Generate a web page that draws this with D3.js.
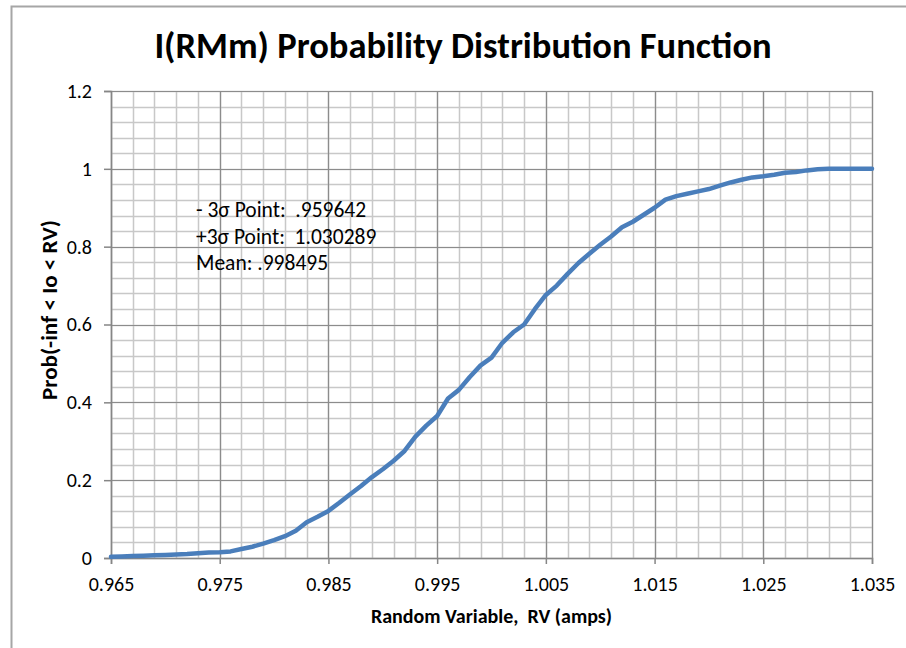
<!DOCTYPE html>
<html>
<head>
<meta charset="utf-8">
<script src="https://cdn.jsdelivr.net/npm/d3@7"></script>
<style>
  body { margin: 0; background: #fff; }
  svg { display: block; }
  text { font-family: Carlito, Calibri, "Liberation Sans Narrow", "Open Sans", sans-serif; }
</style>
</head>
<body>
<svg id="chart" width="906" height="648"></svg>
<script>
// random variable values (amps)
const rv = [
  0.965, 0.966, 0.967, 0.968, 0.969, 0.970, 0.971, 0.972, 0.973, 0.974,
  0.975, 0.976, 0.977, 0.978, 0.979, 0.980, 0.981, 0.982, 0.983, 0.984,
  0.985, 0.986, 0.987, 0.988, 0.989, 0.990, 0.991, 0.992, 0.993, 0.994,
  0.995, 0.996, 0.997, 0.998, 0.999, 1.000, 1.001, 1.002, 1.003, 1.004,
  1.005, 1.006, 1.007, 1.008, 1.009, 1.010, 1.011, 1.012, 1.013, 1.014,
  1.015, 1.016, 1.017, 1.018, 1.019, 1.020, 1.021, 1.022, 1.023, 1.024,
  1.025, 1.026, 1.027, 1.028, 1.029, 1.030, 1.031, 1.032, 1.035
]
// cumulative probability
const prob = [
  0.003, 0.004, 0.005, 0.006, 0.007, 0.008, 0.009, 0.010, 0.012, 0.014,
  0.015, 0.017, 0.023, 0.029, 0.037, 0.046, 0.056, 0.070, 0.092, 0.106,
  0.121, 0.142, 0.164, 0.185, 0.208, 0.228, 0.250, 0.275, 0.312, 0.340,
  0.365, 0.410, 0.432, 0.465, 0.495, 0.515, 0.553, 0.580, 0.600, 0.640,
  0.676, 0.700, 0.730, 0.758, 0.782, 0.805, 0.826, 0.850, 0.864, 0.882,
  0.900, 0.921, 0.930, 0.936, 0.942, 0.948, 0.957, 0.965, 0.972, 0.978,
  0.981, 0.985, 0.990, 0.992, 0.996, 0.999, 1.000, 1.000, 1.000
]
const xTicks = [0.965, 0.975, 0.985, 0.995, 1.005, 1.015, 1.025, 1.035]
const yTicks = [0, 0.2, 0.4, 0.6, 0.8, 1, 1.2]
const notes = ['- 3\u03c3 Point:  .959642', '+3\u03c3 Point:  1.030289', 'Mean: .998495']

const margin = { top: 91, right: 34, bottom: 90, left: 111 }
const width = 906 - (margin.left + margin.right)
const height = 648 - (margin.top + margin.bottom)

const svg = d3.select('#chart')

// outer chart border
svg.append('rect')
  .attr('x', 11.5).attr('y', 6.5)
  .attr('width', 920).attr('height', 700)
  .attr('fill', 'none')
  .attr('stroke', '#a6a6a6')
  .attr('stroke-width', 2)

const x = d3.scaleLinear().domain([0.965, 1.035]).range([0, width])
const y = d3.scaleLinear().domain([0, 1.2]).range([height, 0])

const g = svg.append('g').attr('transform', `translate(${margin.left}, ${margin.top})`)

// minor grid
const xMinor = d3.range(0, 36).map(i => 0.965 + i * 0.002)
const yMinor = d3.range(0, 31).map(i => i * 0.04)
g.append('g').selectAll('line').data(xMinor).enter().append('line')
  .attr('x1', d => Math.round(x(d)) + 0.5).attr('x2', d => Math.round(x(d)) + 0.5)
  .attr('y1', 0).attr('y2', height)
  .attr('stroke', '#c8c8c8').attr('stroke-width', 1.5)
g.append('g').selectAll('line').data(yMinor).enter().append('line')
  .attr('y1', d => Math.round(y(d)) + 0.5).attr('y2', d => Math.round(y(d)) + 0.5)
  .attr('x1', 0).attr('x2', width)
  .attr('stroke', '#c8c8c8').attr('stroke-width', 1.5)

// major grid
g.append('g').selectAll('line').data(xTicks).enter().append('line')
  .attr('x1', d => Math.round(x(d)) + 0.5).attr('x2', d => Math.round(x(d)) + 0.5)
  .attr('y1', 0).attr('y2', height)
  .attr('stroke', '#8c8c8c').attr('stroke-width', 1.2)
g.append('g').selectAll('line').data(yTicks).enter().append('line')
  .attr('y1', d => Math.round(y(d)) + 0.5).attr('y2', d => Math.round(y(d)) + 0.5)
  .attr('x1', 0).attr('x2', width)
  .attr('stroke', '#8c8c8c').attr('stroke-width', 1.2)

// axes
const bottomAxis = d3.axisBottom(x).tickValues(xTicks).tickFormat(d3.format('.3f')).tickSize(6).tickPadding(13)
const xAxisG = g.append('g')
  .attr('transform', `translate(0, ${height})`)
  .call(bottomAxis)
const leftAxis = d3.axisLeft(y).tickValues(yTicks).tickFormat(d => d === 0 ? '0' : d3.format('.1f')(d).replace('1.0', '1')).tickSize(7).tickPadding(12)
const yAxisG = g.append('g').call(leftAxis)

;[xAxisG, yAxisG].forEach(a => {
  a.attr('font-size', 20)
  a.selectAll('.domain').attr('stroke', '#868686').attr('stroke-width', 1.5)
  a.selectAll('.tick line').attr('stroke', '#868686').attr('stroke-width', 1.5)
  a.selectAll('.tick text').attr('font-size', 20).attr('fill', '#000')
    .style('font-family', 'Carlito, Calibri, "Liberation Sans Narrow", "Open Sans", sans-serif')
})

// the curve
const line = d3.line()
  .x((d, i) => x(rv[i]))
  .y(d => y(d))
g.append('path')
  .datum(prob)
  .attr('fill', 'none')
  .attr('stroke', '#4a7ebb')
  .attr('stroke-width', 4.5)
  .attr('stroke-linejoin', 'round')
  .attr('stroke-linecap', 'round')
  .attr('d', line)

// annotation text
g.append('g').selectAll('text').data(notes).enter().append('text')
  .attr('x', 85)
  .attr('y', (d, i) => 126 + i * 26.5)
  .attr('font-size', 21.5)
  .style('white-space', 'pre')
  .text(d => d)

// title
svg.append('text')
  .attr('x', 463).attr('y', 58)
  .attr('text-anchor', 'middle')
  .attr('font-size', 36.5)
  .attr('font-weight', 'bold')
  .text('I(RMm) Probability Distribution Function')

// axis labels
svg.append('text')
  .attr('x', margin.left + width / 2).attr('y', 623)
  .attr('text-anchor', 'middle')
  .attr('font-size', 20)
  .attr('font-weight', 'bold')
  .style('white-space', 'pre')
  .text('Random Variable,  RV (amps)')

svg.append('text')
  .attr('transform', `translate(57, 310) rotate(-90)`)
  .attr('text-anchor', 'middle')
  .attr('font-size', 23)
  .attr('font-weight', 'bold')
  .text('Prob(-inf < Io < RV)')
</script>
</body>
</html>
